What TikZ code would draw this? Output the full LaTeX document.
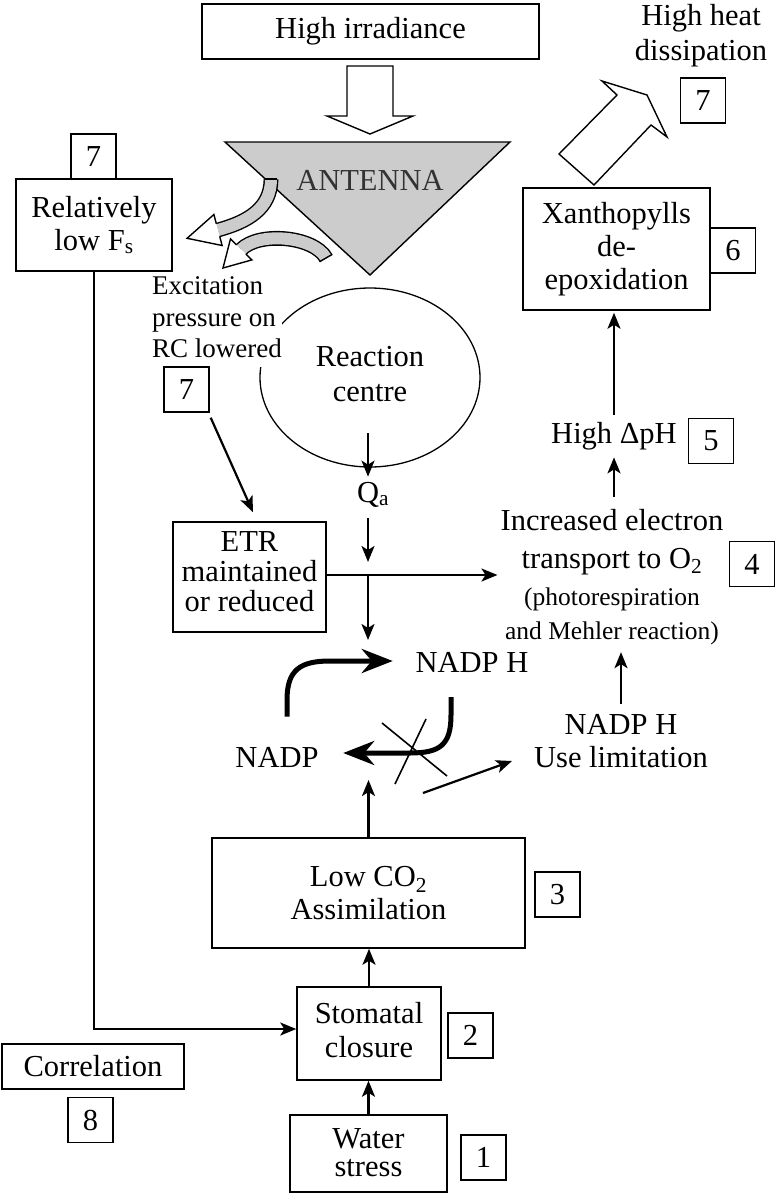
\documentclass[tikz,border=0pt]{standalone}
\usepackage{fontspec}
\setmainfont{Liberation Serif}
\usetikzlibrary{arrows.meta,shapes.geometric}
\newcommand\myfnt[1]{\fontsize{30.5}{#1}\selectfont}
\newcommand\mysmfnt{\fontsize{27}{31.5}\selectfont}
\newcommand\mytnfnt{\fontsize{25.5}{34}\selectfont}
\newcommand\mydep[1]{\rule[-#1pt]{0pt}{0pt}}
\begin{document}
\begin{tikzpicture}[x=1pt,y=-1pt,
  box/.style={draw, line width=1.5pt, inner sep=0pt, align=center, font=\myfnt{33}},
  numbox/.style={draw, line width=1.4pt, minimum width=45pt, minimum height=45pt, inner sep=0pt, font=\myfnt{33}},
  txt/.style={inner sep=0pt, align=center, font=\myfnt{33}},
  arr/.style={line width=2.2pt, -{Stealth[length=16pt,width=13pt,inset=4pt]}},
  bigarr/.style={line width=5pt, -{Stealth[length=31pt,width=24pt,inset=10pt]}},
  outl/.style={line width=1.4pt},
  blockfill/.style={line width=1.4pt, fill=white, line join=miter},
  bandfill/.style={draw=black!20, line width=12pt},
  bandline/.style={draw=black, line width=14.8pt}
]
\fill[white] (0,0) rectangle (779,1199);
\useasboundingbox (0,0) rectangle (779,1199);

% top
\node[box, minimum width=337pt, minimum height=55pt] (irr) at (370.5,31.5) {High irradiance};
\draw[blockfill] (347,66) -- (393,66) -- (393,116) -- (413,116) -- (370,134) -- (327,116) -- (347,116) -- cycle;

% antenna
\draw[outl, fill=black!20] (225,142) -- (510,142) -- (370,275) -- cycle;
\node[txt, text=black!80] (ant) at (370,180) {ANTENNA};

% curved arrow 1
\draw[bandline] (271,179) .. controls (271,209) and (247,222) .. (218,230);
\draw[bandfill] (271,179) .. controls (271,209) and (247,222) .. (218,230);
\draw[outl] (264.6,179) -- (277.4,179);
\filldraw[outl, fill=white] (219.7,236.3) -- (222.1,245.5) -- (187.1,238.3) -- (213.9,214.5) -- (216.3,223.7);

% curved arrow 2
\draw[bandline] (326,258) .. controls (313.5,236) and (258.7,231.5) .. (241.2,249.4);
\draw[bandfill] (326,258) .. controls (313.5,236) and (258.7,231.5) .. (241.2,249.4);
\draw[outl] (332.4,254.35) -- (319.6,261.65);
\filldraw[outl, fill=white] (245.8,254.0) -- (251.9,259.9) -- (223,268) -- (230.5,238.9) -- (236.6,244.9);

% left column
\node[box, minimum width=156pt, minimum height=92pt] (fs) at (94,225) {Relatively\\low F\textsubscript{s}};
\node[numbox] (n7a) at (93.5,156.5) {7};

% reaction centre
\node[draw, ellipse, line width=1.3pt, minimum width=220pt, minimum height=179pt, inner sep=0pt] (rc) at (370,377.5) {};
\node[txt, font=\myfnt{35}] (rct) at (370,374) {Reaction\\centre};
\node[anchor=north west, inner sep=0pt, fill=white, align=left, font=\mysmfnt] (exc) at (152,276.6) {Excitation\\pressure on\\RC lowered\mydep{9}};
\node[numbox] (n7b) at (186.5,389.5) {7};

% Qa
\node[txt] (qa) at (373,494.4) {Q\textsubscript{a}};
\coordinate (rcin) at (368,433);
\coordinate (q1) at (368,518);
\coordinate (j1) at (368,562);
\coordinate (j2) at (368,575);
\coordinate (nd) at (368,640);
\draw[arr, shorten >=5pt] (rcin) -- (rcin |- qa.north);
\draw[arr] (q1) -- (j1);

% ETR
\node[box, minimum width=153pt, minimum height=110pt, font=\myfnt{30}] (etr) at (249.5,577) {ETR\\maintained\\or reduced\mydep{10}};
\draw[arr] ([shift={(1pt,-5pt)}]n7b.south east) -- ([shift={(3.5pt,9pt)}]etr.north);

% increased electron transport
\node[txt, font=\myfnt{38}] (inc) at (612,541.9) {Increased electron\\transport to O\textsubscript{2}};
\node[txt, font=\mytnfnt] (incp) at (612,615.9) {(photorespiration\\and Mehler reaction)};
\node[numbox] (n4) at (752,564) {4};
\draw[arr, shorten >=3pt] (etr.east |- j2) -- (inc.west |- j2);
\draw[arr] (j2) -- (nd);

% delta pH and xanthophylls
\node[txt] (dph) at (614,435.9) {High ΔpH};
\node[numbox] (n5) at (711,441) {5};
\node[box, minimum width=187pt, minimum height=122pt] (xan) at (616.5,249) {Xanthopylls\\de-\\epoxidation};
\node[numbox] (n6) at (733,250.5) {6};
\draw[arr, shorten <=12.2pt, shorten >=7.4pt] (dph.south |- inc.north) -- (dph.south);
\draw[arr, shorten <=7pt, shorten >=2pt] (dph.north) -- (dph.north |- xan.south);

% heat dissipation
\node[txt, font=\myfnt{35}] (heat) at (701,35.4) {High heat\\dissipation};
\node[numbox] (n7c) at (703,100.5) {7};
\draw[blockfill] (559,154) -- (594,185) -- (651,125) -- (667,137) -- (647,95) -- (602,81) -- (617,95) -- cycle;

% NADP cycle
\node[txt] (nadph) at (472,662.9) {NADP H};
\node[txt] (nadp) at (277,757.9) {NADP};
\draw[bigarr, shorten <=31pt, shorten >=22.7pt] ([xshift=10pt]nadp.north) -- (287,700) .. controls (287,670) and (300,661) .. (330,661) -- (nadph.west |- 0,661);
\draw[bigarr, shorten <=24pt, shorten >=24.5pt] ([xshift=-21pt]nadph.south) -- (451,715) .. controls (451,745) and (440,753) .. (410,753) -- (nadp.east |- 0,753);
\draw[line width=1.6pt] (382,723) -- (447,776);
\draw[line width=1.6pt] (426,719) -- (395,784);

% NADPH use limitation
\node[txt] (use) at (621,741.4) {NADP H\\Use limitation};
\coordinate (xs) at (423,793);
\coordinate (ul) at (512,761);
\draw[arr] (xs) -- (ul);
\draw[arr, shorten <=10pt, shorten >=7.5pt] (use.north) -- (use.north |- incp.south);

% lower column
\node[box, minimum width=313pt, minimum height=110pt] (low) at (368.5,893) {Low CO\textsubscript{2}\\Assimilation};
\node[numbox] (n3) at (557.5,894.5) {3};
\coordinate (cyc) at (368.5,780);
\draw[arr] (low.north) -- (cyc);

\node[box, minimum width=144pt, minimum height=93pt, font=\myfnt{34}] (stom) at (369,1033.5) {Stomatal\\closure\mydep{8}};
\node[numbox] (n2) at (470.5,1035.5) {2};
\draw[arr] (stom.north) -- (stom.north |- low.south);

\node[box, minimum width=157pt, minimum height=77pt, font=\myfnt{28.5}] (water) at (368.5,1153.5) {Water\\stress\mydep{2}};
\node[numbox] (n1) at (483.5,1157.5) {1};
\draw[arr] (water.north) -- (water.north |- stom.south);

\draw[arr] (fs.south) |- ([yshift=4.5pt]stom.west);

\node[box, minimum width=182pt, minimum height=45pt] (corr) at (93,1066.5) {Correlation};
\node[numbox] (n8) at (90.5,1120) {8};
\end{tikzpicture}
\end{document}
